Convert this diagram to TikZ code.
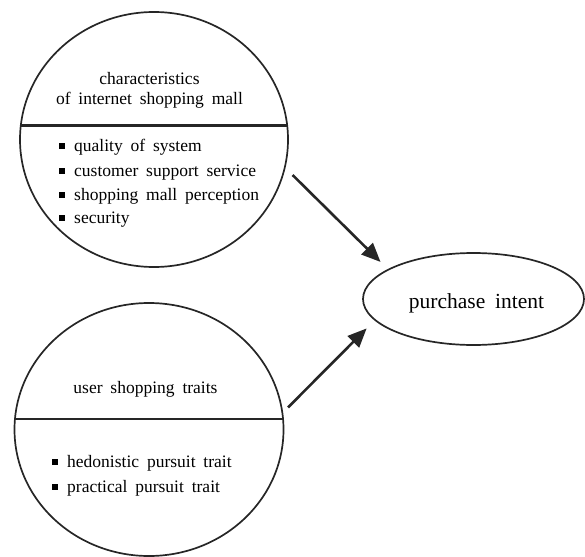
\documentclass[tikz,border=0pt]{standalone}
\usepackage{fontspec}
\setmainfont{Liberation Serif}
\usetikzlibrary{shapes,arrows.meta,positioning}

\newcommand{\widesp}{\spaceskip=0.45em plus 0.1em\relax}
\newcommand{\bsq}{\llap{\rule[2pt]{6pt}{6pt}\hspace{9pt}}}

\tikzset{
  construct/.style={ellipse,draw=black!85,line width=1.7pt,outer sep=0pt,inner sep=0pt},
  divider/.style={draw=black!85,line width=2.8pt},
  txt/.style={font=\fontsize{17.5}{20}\selectfont\widesp,inner sep=0pt,anchor=base},
  item/.style={txt,anchor=base west},
  link/.style={draw=black!85,line width=2.6pt,-{Triangle[length=19pt,width=16pt]}}
}

\begin{document}
\begin{tikzpicture}[x=1pt,y=-1pt]
\useasboundingbox (0,0) rectangle (585,556);

\node[construct,minimum width=268pt,minimum height=255pt] (mall) at (154,139.5) {};
\node[construct,minimum width=269pt,minimum height=253pt] (traits) at (149,429.5) {};
\node[construct,minimum width=221pt,minimum height=92pt] (intent) at (473.5,299) {};

\draw[divider] ([yshift=14pt]mall.west) -- ([yshift=14pt]mall.east);
\draw[divider] ([yshift=10.5pt]traits.west) -- ([yshift=10.5pt]traits.east);

\node[txt] (mallhead1) at (149.5,85) {characteristics};
\node[txt] (mallhead2) at (149.5,105) {of internet shopping mall};
\node[item] (quality) at (74,151) {\bsq quality of system};
\node[item] (support) at (74,176) {\bsq customer support service};
\node[item] (perception) at (74,200) {\bsq shopping mall perception};
\node[item] (security) at (74,223) {\bsq security};

\node[txt] (traitshead) at (145.5,393) {user shopping traits};
\node[item] (hedonic) at (67,467) {\bsq hedonistic pursuit trait};
\node[item] (practical) at (67,492) {\bsq practical pursuit trait};

\node[txt,font=\fontsize{21.5}{24}\selectfont\widesp] (intentlabel) at (476.5,308) {purchase intent};

% arrows
\draw[link,shorten <=11pt,shorten >=11pt] (mall.-12) -- (intent.161);
\draw[link,shorten <=8pt,shorten >=12pt] (traits.7) -- (intent.192);

\end{tikzpicture}
\end{document}
